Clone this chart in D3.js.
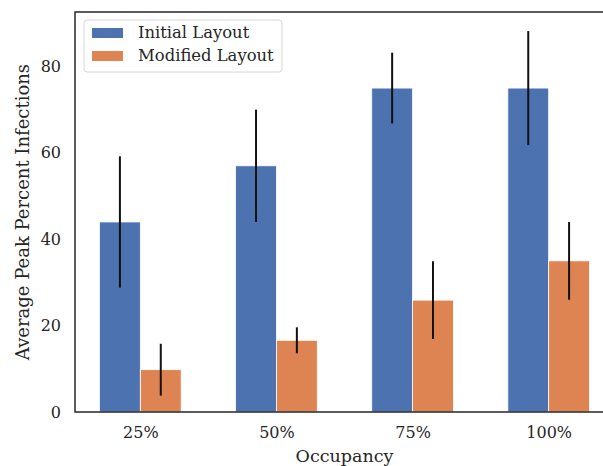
<!DOCTYPE html>
<html>
<head>
<meta charset="utf-8">
<script src="https://cdn.jsdelivr.net/npm/d3@7"></script>
<style>
  html, body { margin: 0; padding: 0; background: #fff; }
  svg { display: block; }
</style>
</head>
<body>
<div id="chart"></div>
<script>
const categories = ["25%", "50%", "75%", "100%"];
const seriesNames = ["Initial Layout", "Modified Layout"];
const initialMean = [44.0, 57.0, 75.0, 75.0];
const initialErr = [15.2, 13.0, 8.2, 13.2];
const modifiedMean = [9.8, 16.6, 25.9, 35.0];
const modifiedErr = [6.0, 3.0, 9.0, 9.0];
const yTicks = [0, 20, 40, 60, 80];

const W = 603, H = 466;
const margin = {top: 12, left: 75};
const plotW = 539, plotH = 400;   // right side runs past the canvas edge
const colors = ["#4c72b0", "#dd8452"];
const ink = "#262626";
const font = "'DejaVu Serif', serif";

const svg = d3.select("#chart").append("svg")
    .attr("width", W).attr("height", H);

const g = svg.append("g")
    .attr("transform", `translate(${margin.left},${margin.top})`);

// numeric x like matplotlib: bars at i -/+ 0.15, width 0.3
const x = d3.scaleLinear().domain([-0.48, 3.48]).range([0, plotW]);
const barW = 0.3;
const maxTop = d3.max([
    ...initialMean.map((d, i) => d + initialErr[i]),
    ...modifiedMean.map((d, i) => d + modifiedErr[i])
]);
const y = d3.scaleLinear().domain([0, maxTop * 1.05]).range([plotH, 0]);

const series = [
    {name: seriesNames[0], mean: initialMean, err: initialErr, off: -barW / 2},
    {name: seriesNames[1], mean: modifiedMean, err: modifiedErr, off: barW / 2}
];

series.forEach((s, si) => {
    const rows = categories.map((c, i) => ({i, v: s.mean[i], e: s.err[i]}));
    g.selectAll(null).data(rows).join("rect")
        .attr("x", d => x(d.i + s.off - barW / 2))
        .attr("width", d => x(barW) - x(0))
        .attr("y", d => y(d.v))
        .attr("height", d => plotH - y(d.v))
        .attr("fill", colors[si])
        .attr("stroke", "#fff")
        .attr("stroke-width", 0.8);
    g.selectAll(null).data(rows).join("line")
        .attr("x1", d => x(d.i + s.off)).attr("x2", d => x(d.i + s.off))
        .attr("y1", d => y(d.v - d.e)).attr("y2", d => y(d.v + d.e))
        .attr("stroke", "#111").attr("stroke-width", 2);
});

// spines
g.append("rect")
    .attr("x", 0).attr("y", 0).attr("width", plotW).attr("height", plotH)
    .attr("fill", "none").attr("stroke", ink).attr("stroke-width", 1.5);

// y axis
const yAxis = g.append("g")
    .call(d3.axisLeft(y).tickValues(yTicks).tickSize(0).tickPadding(14));
yAxis.select(".domain").remove();
yAxis.selectAll("text")
    .attr("fill", ink).style("font-family", font).style("font-size", "16px");

// x axis
const xAxis = g.append("g")
    .attr("transform", `translate(0,${plotH})`)
    .call(d3.axisBottom(x).tickValues(categories.map((c, i) => i))
        .tickFormat(i => categories[i]).tickSize(0).tickPadding(15));
xAxis.select(".domain").remove();
xAxis.selectAll("text")
    .attr("fill", ink).style("font-family", font).style("font-size", "16px");

// axis titles
svg.append("text")
    .attr("transform", `translate(29,${margin.top + plotH / 2}) rotate(-90)`)
    .attr("text-anchor", "middle")
    .attr("fill", ink).style("font-family", font).style("font-size", "18px")
    .text("Average Peak Percent Infections");

svg.append("text")
    .attr("x", margin.left + x(1.5)).attr("y", 462)
    .attr("text-anchor", "middle")
    .attr("fill", ink).style("font-family", font).style("font-size", "17.5px")
    .text("Occupancy");

// legend
const leg = svg.append("g").attr("transform", "translate(84,20)");
leg.append("rect")
    .attr("width", 198).attr("height", 52).attr("rx", 3)
    .attr("fill", "#fff").attr("fill-opacity", 0.8)
    .attr("stroke", "#d6d6d6").attr("stroke-width", 1);
seriesNames.forEach((n, i) => {
    leg.append("rect")
        .attr("x", 8).attr("y", 8 + i * 23)
        .attr("width", 31).attr("height", 10)
        .attr("fill", colors[i]);
    leg.append("text")
        .attr("x", 54).attr("y", 18 + i * 23)
        .attr("fill", ink).style("font-family", font).style("font-size", "16.4px")
        .text(n);
});
</script>
</body>
</html>
